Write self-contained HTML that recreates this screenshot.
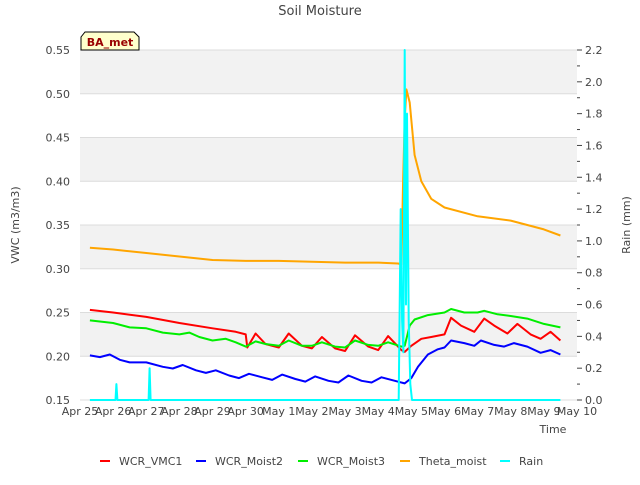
<!DOCTYPE html>
<html><head><meta charset="utf-8"><style>
body{margin:0;background:#fff;font-family:"Liberation Sans","DejaVu Sans",sans-serif}
svg text{font-family:"DejaVu Sans","Liberation Sans",sans-serif}
</style></head><body>
<svg id="c" width="640" height="480" xmlns="http://www.w3.org/2000/svg"></svg>
<script>
const xTickLabels=["Apr 25","Apr 26","Apr 27","Apr 28","Apr 29","Apr 30","May 1","May 2","May 3","May 4","May 5","May 6","May 7","May 8","May 9","May 10"];
const yTicks=[0.15,0.20,0.25,0.30,0.35,0.40,0.45,0.50,0.55];
const y2Ticks=[0,0.2,0.4,0.6,0.8,1.0,1.2,1.4,1.6,1.8,2.0,2.2];
const thetaMoist=[[0.3,0.324],[1,0.322],[2,0.318],[3,0.314],[4,0.310],[5,0.309],[6,0.309],[7,0.308],[8,0.307],[9,0.307],[9.6,0.306],[9.7,0.305],[9.75,0.40],[9.8,0.47],[9.85,0.505],[9.95,0.49],[10.1,0.43],[10.3,0.40],[10.6,0.38],[11,0.37],[12,0.36],[13,0.355],[14,0.345],[14.5,0.338]];
const wcrVmc1=[[0.3,0.253],[1,0.250],[2,0.245],[3,0.238],[4,0.232],[4.7,0.228],[5.0,0.225],[5.05,0.210],[5.3,0.226],[5.6,0.214],[6,0.210],[6.3,0.226],[6.7,0.212],[7,0.209],[7.3,0.222],[7.7,0.209],[8,0.206],[8.3,0.224],[8.7,0.211],[9,0.207],[9.3,0.223],[9.7,0.207],[9.8,0.205],[10,0.212],[10.3,0.220],[10.6,0.222],[11,0.225],[11.2,0.244],[11.5,0.235],[11.9,0.228],[12.2,0.243],[12.5,0.235],[12.9,0.226],[13.2,0.237],[13.6,0.225],[13.9,0.220],[14.2,0.228],[14.5,0.218]];
const wcrMoist3=[[0.3,0.241],[1,0.238],[1.5,0.233],[2,0.232],[2.5,0.227],[3,0.225],[3.3,0.227],[3.6,0.222],[4,0.218],[4.4,0.220],[4.7,0.216],[5,0.211],[5.3,0.217],[5.6,0.214],[6,0.212],[6.3,0.218],[6.7,0.212],[7,0.212],[7.3,0.216],[7.7,0.211],[8,0.210],[8.3,0.218],[8.7,0.213],[9,0.212],[9.3,0.216],[9.7,0.211],[9.8,0.212],[9.95,0.235],[10.1,0.242],[10.5,0.247],[11,0.250],[11.2,0.254],[11.6,0.250],[12,0.250],[12.2,0.252],[12.6,0.248],[13,0.246],[13.5,0.243],[14,0.237],[14.5,0.233]];
const wcrMoist2=[[0.3,0.201],[0.6,0.199],[0.9,0.202],[1.2,0.196],[1.5,0.193],[2,0.193],[2.5,0.188],[2.8,0.186],[3.1,0.190],[3.5,0.184],[3.8,0.181],[4.1,0.184],[4.5,0.178],[4.8,0.175],[5.1,0.180],[5.5,0.176],[5.8,0.173],[6.1,0.179],[6.5,0.174],[6.8,0.171],[7.1,0.177],[7.5,0.172],[7.8,0.170],[8.1,0.178],[8.5,0.172],[8.8,0.170],[9.1,0.176],[9.5,0.172],[9.8,0.169],[10,0.175],[10.2,0.188],[10.5,0.202],[10.8,0.208],[11,0.210],[11.2,0.218],[11.6,0.215],[11.9,0.212],[12.1,0.218],[12.5,0.213],[12.8,0.211],[13.1,0.215],[13.5,0.211],[13.9,0.204],[14.2,0.207],[14.5,0.202]];
const rain=[[0.3,0],[1.07,0],[1.1,0.1],[1.13,0],[2.07,0],[2.1,0.2],[2.13,0],[9.62,0],[9.68,1.2],[9.72,0.5],[9.76,0.3],[9.8,2.2],[9.84,0.6],[9.87,1.8],[9.92,0.5],[9.97,0.1],[10.02,0],[14.5,0]];
const L=80,R=577,T=50,B=400;
const X=d=>L+d*(R-L)/15;
const Y=v=>B-(v-0.15)*(B-T)/0.4;
const Y2=v=>B-v*(B-T)/2.2;
const s=document.getElementById('c');const NS="http://www.w3.org/2000/svg";
function el(t,a,p){const e=document.createElementNS(NS,t);for(const k in a)e.setAttribute(k,a[k]);(p||s).appendChild(e);return e;}
function txt(x,y,str,a){const e=el('text',Object.assign({x:x,y:y,'font-size':11,fill:'#444'},a||{}));e.textContent=str;return e;}
// bands
[[0.50,0.55],[0.40,0.45],[0.30,0.35],[0.20,0.25]].forEach(b=>{const r=el('rect',{x:L,y:Y(b[1]),width:R-L,height:Y(b[0])-Y(b[1]),fill:'#f2f2f2'});

});
yTicks.forEach(v=>{const g=el('line',{x1:L,x2:R,y1:Y(v),y2:Y(v),stroke:'#dcdcdc','stroke-width':1});


const t=txt(L-10,Y(v)+4,v.toFixed(2),{'text-anchor':'end'});

});
y2Ticks.forEach(v=>{el('line',{x1:R,x2:R+5,y1:Y2(v),y2:Y2(v),stroke:'#444'});
const t=txt(R+8,Y2(v)+4,v.toFixed(1));

});
for(let i=0;i<y2Ticks.length-1;i++){const m=(y2Ticks[i]+y2Ticks[i+1])/2;el('line',{x1:R,x2:R+3,y1:Y2(m),y2:Y2(m),stroke:'#444'});}
xTickLabels.forEach((l,i)=>{const t=txt(X(i),415,l,{'text-anchor':'middle'});

});
function line(data,yf,color,name,w){const p=el('polyline',{points:data.map(d=>X(d[0]).toFixed(1)+','+yf(d[1]).toFixed(1)).join(' '),fill:'none',stroke:color,'stroke-width':w||2,'stroke-linejoin':'round'});

}
line(thetaMoist,Y,'#ffa500','theta-moist-line');
line(wcrVmc1,Y,'#ff0000','wcr-vmc1-line');
line(wcrMoist3,Y,'#00ee00','wcr-moist3-line');
line(wcrMoist2,Y,'#0000ff','wcr-moist2-line');
line(rain,Y2,'#00ffff','rain-line');
txt(320,15,'Soil Moisture',{'text-anchor':'middle','font-size':13,fill:'#444'});
txt(553,433,'Time',{'text-anchor':'middle'});
txt(19,225,'VWC (m3/m3)',{'text-anchor':'middle',transform:'rotate(-90 19 225)'});
txt(630,225,'Rain (mm)',{'text-anchor':'middle',transform:'rotate(-90 630 225)'});
const lb=el('path',{d:'M81,50 L81,37 L85,32 L134,32 L139,37 L139,50 Z',fill:'#ffffcc',stroke:'#000','stroke-width':1});


txt(110,46,'BA_met',{'text-anchor':'middle','font-size':11,'font-weight':'bold',fill:'#990000'});
const leg=[['WCR_VMC1','#ff0000',100],['WCR_Moist2','#0000ff',196],['WCR_Moist3','#00ee00',298],['Theta_moist','#ffa500',400],['Rain','#00ffff',500]];
leg.forEach(l=>{const g=el('g',{});


el('line',{x1:l[2],x2:l[2]+10,y1:461,y2:461,stroke:l[1],'stroke-width':2},g);
const t=txt(l[2]+19,465,l[0]);g.appendChild(t);});
</script></body></html>
